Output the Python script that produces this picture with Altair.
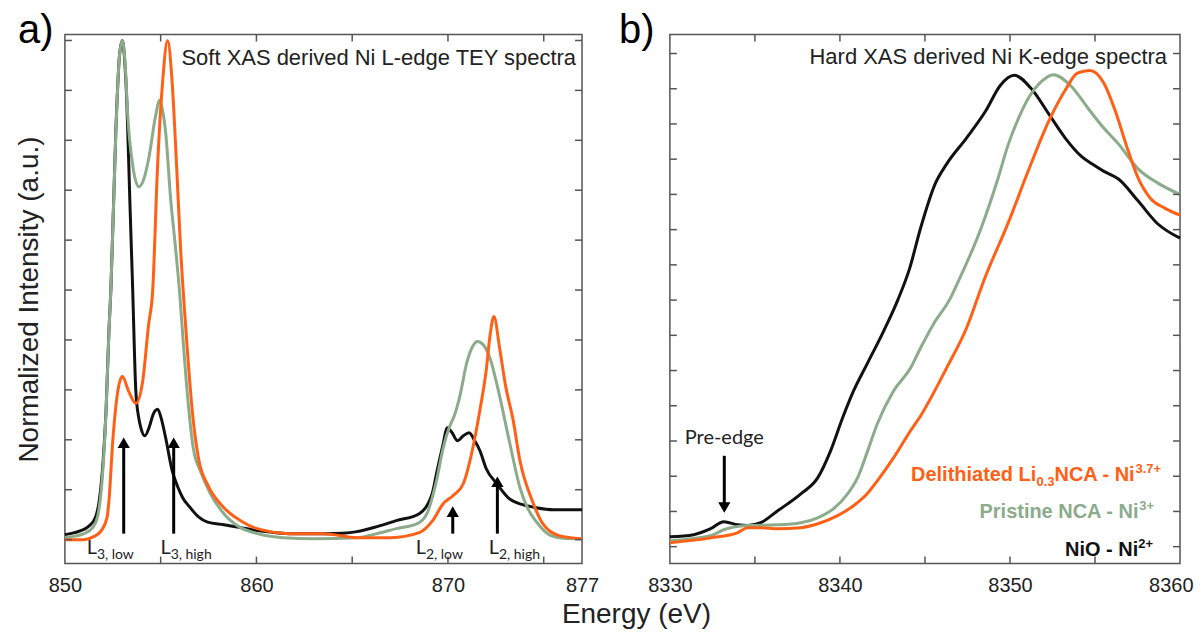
import altair as alt
import pandas as pd

# ---------------- data: panel a (Ni L-edge, soft XAS) ----------------
a_nio_E = [850.0, 850.5, 850.83, 851.25, 851.6, 851.8, 852.0, 852.15, 852.3, 852.4, 852.66, 852.85, 853.0,
           853.12, 853.23, 853.39, 853.54, 853.7, 853.85, 853.96, 854.17, 854.4, 854.6, 854.84, 855.05,
           855.26, 855.6, 855.9, 856.15, 856.5, 856.96, 857.45, 858.3, 859.2, 860.05, 861.0, 861.8, 863.5,
           864.5, 865.25, 866.3, 867.3, 868.5, 868.96, 869.2, 869.4, 869.75, 869.95, 870.2, 870.5, 870.8,
           871.1, 871.4, 871.67, 872.0, 872.55, 873.2, 873.9, 874.6, 875.5, 877.0]
a_nio_I = [0.10, 0.14, 0.18, 0.27, 0.45, 0.8, 1.6, 2.6, 4.2, 5.0, 8.2, 9.7, 10.0,
           9.6, 8.8, 6.8, 5.0, 3.0, 2.45, 2.25, 2.08, 2.25, 2.5, 2.61, 2.4,
           2.04, 1.38, 1.05, 0.84, 0.66, 0.46, 0.35, 0.30, 0.24, 0.18, 0.14, 0.12, 0.12,
           0.13, 0.16, 0.26, 0.38, 0.52, 0.72, 0.95, 1.32, 1.92, 2.24, 2.15, 1.98, 2.08,
           2.14, 1.98, 1.78, 1.42, 1.12, 0.82, 0.70, 0.64, 0.60, 0.60]

a_nca_E = [850.0, 850.5, 851.0, 851.45, 851.7, 851.9, 852.14, 852.3, 852.4, 852.66, 852.85, 853.0, 853.15,
           853.28, 853.54, 853.85, 854.1, 854.37, 854.74, 854.95, 855.1, 855.26, 855.52, 855.78, 856.0,
           856.2, 856.46, 856.7, 857.1, 857.6, 858.3, 859.17, 860.05, 861.4, 863.0, 865.25, 866.3, 867.3,
           868.4, 868.9, 869.4, 869.75, 870.1, 870.35, 870.6, 871.0, 871.3, 871.55, 871.85, 872.2, 872.6,
           873.2, 873.76, 874.2, 874.57, 875.37, 876.0, 877.0]
a_nca_I = [0.04, 0.07, 0.12, 0.24, 0.45, 1.0, 2.5, 4.17, 5.0, 8.16, 9.7, 10.0, 9.5,
           8.5, 7.5, 7.07, 7.2, 7.62, 8.5, 8.8, 8.6, 8.16, 6.83, 5.83, 4.9,
           3.84, 2.64, 1.84, 1.35, 0.92, 0.52, 0.24, 0.12, 0.04, 0.02, 0.04, 0.12, 0.22,
           0.32, 0.52, 1.18, 1.84, 2.28, 2.5, 2.84, 3.57, 3.88, 3.97, 3.9, 3.63, 3.04,
           1.98, 1.04, 0.6, 0.38, 0.08, 0.03, 0.02]

a_del_E = [850.0, 851.0, 851.5, 851.9, 852.2, 852.3, 852.5, 852.76, 853.0, 853.33, 853.7, 854.06, 854.37,
           854.58, 854.84, 855.1, 855.36, 855.6, 855.83, 856.04, 856.3, 856.67, 857.0, 857.45, 858.3,
           859.17, 860.05, 861.8, 863.5, 865.25, 867.0, 868.5, 869.2, 869.75, 870.26, 870.8, 871.3,
           871.67, 872.0, 872.2, 872.4, 872.7, 873.0, 873.4, 873.76, 874.4, 874.95, 875.8, 877.0]
a_del_I = [0.0, 0.0, 0.06, 0.18, 0.44, 0.78, 1.98, 2.97, 3.27, 2.97, 2.73, 3.17, 4.31,
           4.97, 7.5, 9.16, 10.0, 9.16, 7.5, 5.83, 4.3, 2.5, 1.58, 1.1, 0.64,
           0.38, 0.22, 0.12, 0.12, 0.04, 0.04, 0.14, 0.38, 0.72, 0.88, 1.12, 1.84,
           2.6, 3.4, 4.1, 4.47, 3.83, 3.1, 2.4, 1.58, 0.78, 0.32, 0.08, 0.02]

# ---------------- data: panel b (Ni K-edge, hard XAS) ----------------
b_nio_E = [8330.0, 8331.4, 8332.4, 8333.17, 8334.0, 8334.58, 8335.34, 8336.34, 8337.7, 8338.7, 8339.45,
           8340.16, 8340.8, 8341.6, 8342.57, 8343.4, 8344.1, 8344.74, 8345.6, 8346.27, 8347.44, 8348.56,
           8349.44, 8350.26, 8351.26, 8352.3, 8353.25, 8354.2, 8354.84, 8355.5, 8356.4, 8357.54, 8358.7,
           8360.0]
b_nio_I = [0.28, 0.34, 0.51, 0.71, 0.62, 0.60, 0.68, 1.02, 1.5, 1.96, 2.72,
           3.66, 4.42, 5.19, 6.12, 7.0, 7.9, 9.04, 10.3, 10.86, 11.6, 12.36,
           13.1, 13.38, 13.0, 12.27, 11.6, 11.08, 10.86, 10.66, 10.43, 9.81, 9.16,
           8.76]

b_nca_E = [8330.0, 8332.4, 8333.17, 8334.58, 8336.34, 8337.7, 8338.69, 8339.63, 8340.45, 8341.04, 8341.63,
           8342.2, 8343.15, 8344.15, 8344.74, 8345.6, 8346.4, 8346.97, 8348.3, 8349.3, 8349.9, 8350.5,
           8351.08, 8351.84, 8352.55, 8353.6, 8354.6, 8355.4, 8356.4, 8357.5, 8358.7, 8360.0]
b_nca_I = [0.17, 0.31, 0.48, 0.60, 0.62, 0.68, 0.82, 1.08, 1.5, 1.96, 2.72,
           3.49, 4.42, 5.07, 5.64, 6.4, 6.97, 7.54, 9.04, 10.46, 11.42, 12.16,
           12.73, 13.2, 13.4, 13.07, 12.44, 11.95, 11.42, 10.74, 10.32, 10.0]

b_del_E = [8330.0, 8332.4, 8334.0, 8334.58, 8335.34, 8336.34, 8337.7, 8338.7, 8339.86, 8340.8, 8341.6,
           8342.2, 8343.15, 8344.15, 8344.74, 8346.27, 8347.44, 8348.5, 8349.9, 8351.1, 8352.3, 8353.3,
           8353.96, 8354.7, 8355.5, 8356.2, 8356.9, 8357.54, 8358.24, 8359.1, 8360.0]
b_del_I = [0.11, 0.25, 0.40, 0.54, 0.54, 0.51, 0.54, 0.65, 0.88, 1.16, 1.5,
           1.87, 2.52, 3.29, 3.71, 5.07, 6.2, 7.6, 9.2, 10.7, 12.1, 13.0,
           13.44, 13.52, 13.18, 12.36, 11.31, 10.46, 9.9, 9.61, 9.41]

# ---------------- annotation values ----------------
a_xlabels = [850, 860, 870, 877]
a_xticks = [855, 860, 865, 870, 875]
a_yticks = list(range(0, 11))
b_xlabels = [8330, 8340, 8350, 8360]
b_xticks = [8335, 8340, 8345, 8350, 8355]
b_yticks = list(range(0, 15))

a_arrow_E = [853.07, 855.68, 870.25, 872.58]
a_arrow_base = [0.12, 0.12, 0.12, 0.12]
a_arrow_tip = [2.06, 2.06, 0.68, 1.28]
a_peak_main = ["L", "L", "L", "L"]
a_peak_sub = ["3, low", "3, high", "2, low", "2, high"]
a_peak_E = [851.67, 855.52, 868.85, 872.66]
a_peak_I = -0.28

b_arrow_E = [8333.2]
b_arrow_base = [2.58]
b_arrow_tip = [0.94]
b_pre_text = "Pre-edge"
b_pre_I = 2.92

a_title = "Soft XAS derived Ni L-edge TEY spectra"
b_title = "Hard XAS derived Ni K-edge spectra"

legend_segments = [
    [("Delithiated Li", "n"), ("0.3", "sub"), ("NCA - Ni", "n"), ("3.7+", "sup")],
    [("Pristine NCA - Ni", "n"), ("3+", "sup")],
    [("NiO - Ni", "n"), ("2+", "sup")],
]
legend_I = [1.87, 0.82, -0.26]

# ---------------- styles ----------------
ORANGE = "#ff6016"
GREEN = "#8bab8b"
BLACK = "#111111"
AXC = "#555555"
TXT = "#222222"
SANS = "Liberation Sans"
HUM = "Lato"
legend_colors = [ORANGE, GREEN, BLACK]
legend_right_px = [19, 26, 27]

AW, AH = 518, 530
BW, BH = 511, 530
TICK = 7

# Liberation Sans Bold advance widths (1/1000 em)
BOLD = {' ': 278, '-': 333, '.': 278, '+': 584, 'A': 722, 'C': 722, 'D': 722, 'L': 611, 'N': 722,
        'O': 778, 'P': 667, 'a': 556, 'c': 556, 'd': 611, 'e': 556, 'h': 611, 'i': 278, 'l': 278,
        'n': 611, 'r': 389, 's': 556, 't': 333}


def text_w(s, size):
    return sum(BOLD.get(c, 556) for c in s) * size / 1000.0


def lines_layer(E, I, color, xenc, yenc):
    df = pd.DataFrame({"E": E, "I": I})
    return alt.Chart(df).mark_line(color=color, strokeWidth=3, interpolate="monotone").encode(x=xenc, y=yenc)


def frame_ticks(xt, yt, W, H, xenc, yenc):
    dx = pd.DataFrame({"E": xt})
    dy = pd.DataFrame({"I": yt})
    st = dict(color=AXC, strokeWidth=1.5)
    return [
        alt.Chart(dx).mark_rule(**st).encode(x=xenc, y=alt.value(H), y2=alt.value(H - TICK)),
        alt.Chart(dx).mark_rule(**st).encode(x=xenc, y=alt.value(0), y2=alt.value(TICK)),
        alt.Chart(dy).mark_rule(**st).encode(y=yenc, x=alt.value(0), x2=alt.value(TICK)),
        alt.Chart(dy).mark_rule(**st).encode(y=yenc, x=alt.value(W), x2=alt.value(W - TICK)),
    ]


def arrows(E, base, tip, up, unit_px, xenc, yenc):
    head = 6.0 / unit_px
    if up:
        shaft_end = [t - head for t in tip]
        head_pos = [t - head for t in tip]
        shape = "triangle-up"
    else:
        shaft_end = [t + head for t in tip]
        head_pos = [t + head for t in tip]
        shape = "triangle-down"
    ds = pd.DataFrame({"E": E, "I": base, "I2": shaft_end})
    dh = pd.DataFrame({"E": E, "I": head_pos})
    return [
        alt.Chart(ds).mark_rule(color="black", strokeWidth=3).encode(x=xenc, y=yenc, y2="I2:Q"),
        alt.Chart(dh).mark_point(shape=shape, filled=True, color="black", opacity=1, size=150).encode(x=xenc, y=yenc),
    ]


def txt(E, I, text, xenc, yenc, **kw):
    df = pd.DataFrame({"E": [E], "I": [I], "t": [text]})
    return alt.Chart(df).mark_text(**kw).encode(x=xenc, y=yenc, text="t:N")


def panel_label(label, px):
    df = pd.DataFrame({"t": [label]})
    return alt.Chart(df).mark_text(font=SANS, fontSize=40, color="black", align="left",
                                   baseline="alphabetic").encode(
        x=alt.value(px), y=alt.value(9), text="t:N")


def x_axis(values, last):
    return alt.Axis(values=values, format="d", ticks=False, domain=False, grid=False, title=None,
                    labelFontSize=20, labelFont=SANS, labelColor=TXT, labelPadding=12,
                    labelFlush=False, labelOverlap=False,
                    labelAlign=alt.expr(f"datum.value == {last} ? 'right' : 'center'"),
                    labelOffset=alt.expr(f"datum.value == {last} ? 13 : 0"))


# ---------------- panel a ----------------
ax_x = alt.X("E:Q", scale=alt.Scale(domain=[850, 877], nice=False, zero=False),
             axis=alt.Axis(values=a_xlabels, format="d", ticks=False, domain=False, grid=False, title=None,
                           labelFontSize=20, labelFont=SANS, labelColor=TXT, labelPadding=12,
                           labelFlush=False, labelOverlap=False))
ax_y = alt.Y("I:Q", scale=alt.Scale(domain=[-0.48, 10.12], nice=False, zero=False),
             axis=alt.Axis(title="Normalized Intensity (a.u.)", labels=False, ticks=False, domain=False,
                           grid=False, titlePadding=21, titleFontSize=28, titleFont=SANS,
                           titleFontWeight="normal", titleColor=TXT))

layers_a = []
layers_a.append(lines_layer(a_nio_E, a_nio_I, BLACK, ax_x, ax_y))
layers_a.append(lines_layer(a_nca_E, a_nca_I, GREEN, ax_x, ax_y))
layers_a.append(lines_layer(a_del_E, a_del_I, ORANGE, ax_x, ax_y))
layers_a += frame_ticks(a_xticks, a_yticks, AW, AH, ax_x, ax_y)
layers_a += arrows(a_arrow_E, a_arrow_base, a_arrow_tip, True, 50.1, ax_x, ax_y)
for main, sub, e in zip(a_peak_main, a_peak_sub, a_peak_E):
    layers_a.append(txt(e, a_peak_I, main, ax_x, ax_y, font=HUM, fontSize=20, color=TXT, align="right",
                        baseline="alphabetic"))
    layers_a.append(txt(e, a_peak_I, sub, ax_x, ax_y, font=HUM, fontSize=14, color=TXT, align="left",
                        baseline="alphabetic", dy=5))
layers_a.append(txt(877, 9.5, a_title, ax_x, ax_y, font=SANS, fontSize=22, color=TXT, align="right",
                    baseline="alphabetic", dx=-6))
layers_a.append(panel_label("a)", -47))
panel_a = alt.layer(*layers_a).properties(width=AW, height=AH)

# ---------------- panel b ----------------
bx_x = alt.X("E:Q", scale=alt.Scale(domain=[8330, 8360], nice=False, zero=False),
             axis=x_axis(b_xlabels, 8360))
bx_y = alt.Y("I:Q", scale=alt.Scale(domain=[-0.48, 14.54], nice=False, zero=False), axis=None)

layers_b = []
layers_b.append(lines_layer(b_nio_E, b_nio_I, BLACK, bx_x, bx_y))
layers_b.append(lines_layer(b_nca_E, b_nca_I, GREEN, bx_x, bx_y))
layers_b.append(lines_layer(b_del_E, b_del_I, ORANGE, bx_x, bx_y))
layers_b += frame_ticks(b_xticks, b_yticks, BW, BH, bx_x, bx_y)
layers_b += arrows(b_arrow_E, b_arrow_base, b_arrow_tip, False, 35.28, bx_x, bx_y)
layers_b.append(txt(b_arrow_E[0], b_pre_I, b_pre_text, bx_x, bx_y, font=HUM, fontSize=20, color=TXT,
                    align="center", baseline="alphabetic"))
layers_b.append(txt(8360, 13.69, b_title, bx_x, bx_y, font=SANS, fontSize=22, color=TXT, align="right",
                    baseline="alphabetic", dx=-13))

MAIN, SMALL = 20, 13
for segs, col, yv, rpx in zip(legend_segments, legend_colors, legend_I, legend_right_px):
    widths = [text_w(s, MAIN if k == "n" else SMALL) for s, k in segs]
    total = sum(widths)
    off = -(rpx + total)
    for (s, k), w in zip(segs, widths):
        size = MAIN if k == "n" else SMALL
        dy = 0 if k == "n" else (5 if k == "sub" else -8)
        layers_b.append(txt(8360, yv, s, bx_x, bx_y, font=SANS, fontSize=size, fontWeight="bold", color=col,
                            align="left", baseline="alphabetic", dx=off, dy=dy))
        off += w
layers_b.append(panel_label("b)", -51))
panel_b = alt.layer(*layers_b).properties(width=BW, height=BH)

chart = alt.hconcat(panel_a, panel_b, spacing=18).properties(
    title=alt.TitleParams("Energy (eV)", orient="bottom", anchor="middle", fontSize=28, font=SANS,
                          fontWeight="normal", color=TXT, dx=32, offset=5),
    padding={"left": 7, "top": 2, "right": 0, "bottom": 0},
    background="white",
).configure_view(stroke=AXC, strokeWidth=1.5)

chart.save("out.html", embed_options={"renderer": "svg", "actions": False})
